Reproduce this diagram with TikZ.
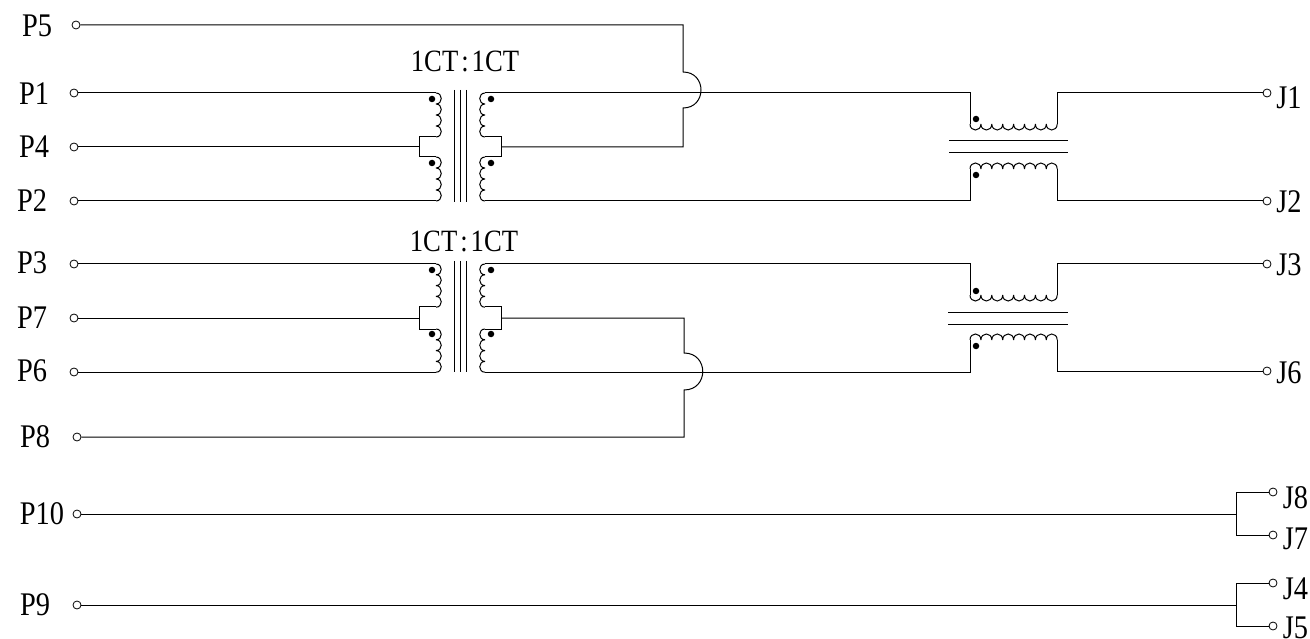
\documentclass[tikz,border=0pt]{standalone}
\usepackage{fontspec}
\setmainfont[FakeStretch=0.86]{Liberation Serif}
% vertical coil: start x, start y, bump direction (+1 right, -1 left), bumps, bump length
\newcommand{\vcoil}[5]{\draw[wire] (#1,#2)
  \foreach \i in {1,...,#4}{ .. controls +({#3*7},0) and +({#3*7},0) .. +(0,#5) ++(0,#5) };}
% horizontal coil: start x, start y, direction (+1 down, -1 up), bumps, bump length
\newcommand{\hcoil}[5]{\draw[wire] (#1,#2)
  \foreach \i in {1,...,#4}{ .. controls +(0,{#3*8}) and +(0,{#3*8}) .. +(#5,0) ++(#5,0) };}
\tikzset{
  wire/.style={line width=1pt,line join=miter},
  term/.style={draw,circle,line width=0.8pt,inner sep=0pt,minimum size=8pt},
  lbl/.style={inner sep=0pt,font=\fontsize{33}{33}\selectfont},
  ratio/.style={inner sep=0pt,font=\fontsize{31}{31}\selectfont},
  phase/.style={fill=black,circle,inner sep=0pt,minimum size=6.5pt}
}
\begin{document}
\begin{tikzpicture}[x=1pt,y=-1pt]
\useasboundingbox (0,0) rectangle (1310,639);
% left terminals
\node[term] (p5) at (76,25) {};
\node[term] (p1) at (74,93) {};
\node[term] (p4) at (74,147) {};
\node[term] (p2) at (74,201) {};
\node[term] (p3) at (74,264) {};
\node[term] (p7) at (74,318) {};
\node[term] (p6) at (74,372) {};
\node[term] (p8) at (77,437) {};
\node[term] (p10) at (77,514) {};
\node[term] (p9) at (77,605) {};
% right terminals
\node[term] (j1) at (1267,93) {};
\node[term] (j2) at (1267,201) {};
\node[term] (j3) at (1267,264) {};
\node[term] (j6) at (1267,371) {};
\node[term] (j8) at (1273,492) {};
\node[term] (j7) at (1273,535) {};
\node[term] (j4) at (1273,583) {};
\node[term] (j5) at (1273,626) {};
% labels
\node[lbl] (tp5) at (37,26) {P5};
\node[lbl] (tp1) at (34,94) {P1};
\node[lbl] (tp4) at (34,147) {P4};
\node[lbl] (tp2) at (32,201) {P2};
\node[lbl] (tp3) at (32,263) {P3};
\node[lbl] (tp7) at (32,318) {P7};
\node[lbl] (tp6) at (32,371) {P6};
\node[lbl] (tp8) at (35,437) {P8};
\node[lbl] (tp10) at (42,514) {P10};
\node[lbl] (tp9) at (35,605) {P9};
\node[lbl] (tj1) at (1289,98) {J1};
\node[lbl] (tj2) at (1289,202) {J2};
\node[lbl] (tj3) at (1289,265) {J3};
\node[lbl] (tj6) at (1289,373) {J6};
\node[lbl] (tj8) at (1295.5,497.5) {J8};
\node[lbl] (tj7) at (1295.5,539) {J7};
\node[lbl] (tj4) at (1295.5,588.5) {J4};
\node[lbl] (tj5) at (1295.5,627.5) {J5};
\node[ratio] (r1) at (465,61) {1CT\kern3pt:\kern3pt 1CT};
\node[ratio] (r2) at (464,241) {1CT\kern3pt:\kern3pt 1CT};
% transformer 1
\vcoil{436}{93}{1}{4}{11}
\vcoil{436}{157}{1}{4}{11}
\vcoil{485}{93}{-1}{4}{11}
\vcoil{485}{157}{-1}{4}{11}
\draw[wire] (p1) -- (436,93);
\draw[wire] (p2) -- (436,201);
\draw[wire] (p4) -- (419,147);
\draw[wire] (436,137) -- (419,137) -- (419,157) -- (436,157);
\draw[wire] (485,137) -- (501,137) -- (501,157) -- (485,157);
\foreach \x in {454,460.5,466.5} \draw[wire] (\x,90) -- (\x,202);
\node[phase] (d1) at (432,99) {};
\node[phase] (d2) at (432,163) {};
\node[phase] (d3) at (491,99) {};
\node[phase] (d4) at (491,163) {};
% transformer 2
\vcoil{436}{264}{1}{4}{10.8}
\vcoil{436}{329}{1}{4}{10.8}
\vcoil{485}{264}{-1}{4}{10.8}
\vcoil{485}{329}{-1}{4}{10.8}
\draw[wire] (p3) -- (436,264);
\draw[wire] (p6) -- (436,372);
\draw[wire] (p7) -- (419,318);
\draw[wire] (436,307) -- (419,307) -- (419,329) -- (436,329);
\draw[wire] (485,307) -- (501,307) -- (501,329) -- (485,329);
\foreach \x in {454,460.5,466.5} \draw[wire] (\x,261) -- (\x,372);
\node[phase] (d5) at (432,270) {};
\node[phase] (d6) at (432,334) {};
\node[phase] (d7) at (491,270) {};
\node[phase] (d8) at (491,334) {};
% through wires with hops
\draw[wire] (p5) -- (683,25) -- (683,72) .. controls (707,72) and (707,108) .. (683,108) -- (683,147) -- (501,147);
\draw[wire] (501,318) -- (684,318) -- (684,353) .. controls (709,353) and (709,390) .. (684,390) -- (684,437) -- (p8);
% right transformer 1
\draw[wire] (485,93) -- (970,93) -- (970,124);
\draw[wire] (485,201) -- (970,201) -- (970,169);
\hcoil{970}{124}{1}{8}{10.9}
\hcoil{970}{169}{-1}{8}{10.9}
\draw[wire] (1057,124) -- (1057,93) -- (j1);
\draw[wire] (1057,169) -- (1057,201) -- (j2);
\draw[wire] (949,141) -- (1068,141);
\draw[wire] (949,153) -- (1068,153);
\node[phase] (d9) at (976,119) {};
\node[phase] (d10) at (976,175) {};
% right transformer 2
\draw[wire] (485,264) -- (970,264) -- (970,295);
\draw[wire] (485,372) -- (970,372) -- (970,340);
\hcoil{970}{295}{1}{8}{10.9}
\hcoil{970}{340}{-1}{8}{10.9}
\draw[wire] (1057,295) -- (1057,264) -- (j3);
\draw[wire] (1057,340) -- (1057,371) -- (j6);
\draw[wire] (948,312) -- (1068,312);
\draw[wire] (948,324) -- (1068,324);
\node[phase] (d11) at (976,291) {};
\node[phase] (d12) at (976,346) {};
% straight-through pairs
\draw[wire] (p10) -- (1236,514);
\draw[wire] (j8) -- (1236,492) -- (1236,535) -- (j7);
\draw[wire] (p9) -- (1236,605);
\draw[wire] (j4) -- (1236,583) -- (1236,626) -- (j5);
\end{tikzpicture}
\end{document}
